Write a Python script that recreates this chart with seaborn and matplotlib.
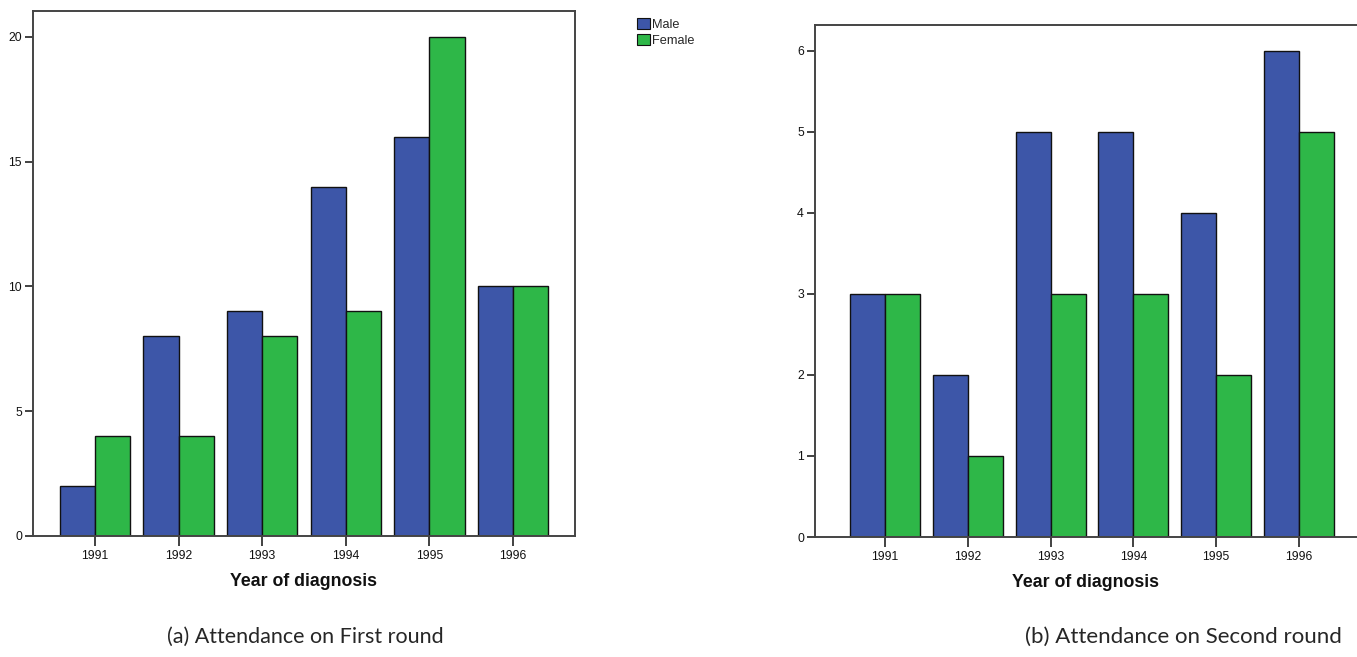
import matplotlib
matplotlib.use("Agg")
import matplotlib.pyplot as plt
import seaborn as sns
import pandas as pd
from matplotlib.patches import Patch

years = ["1991", "1992", "1993", "1994", "1995", "1996"]
sexes = ["Male", "Female"]
first_male = [2, 8, 9, 14, 16, 10]
first_female = [4, 4, 8, 9, 20, 10]
second_male = [3, 2, 5, 5, 4, 6]
second_female = [3, 1, 3, 3, 2, 5]
yticks_first = [0, 5, 10, 15, 20]
yticks_second = [0, 1, 2, 3, 4, 5, 6]
xlabel = "Year of diagnosis"
captions = ["(a) Attendance on First round", "(b) Attendance on Second round"]

BLUE = "#3D56A8"
GREEN = "#2EB748"

sns.set_theme(style="white")
plt.rcParams["font.family"] = ["Liberation Sans", "DejaVu Sans"]


def long_df(male, female):
    return pd.DataFrame({
        "year": years * 2,
        "sex": ["Male"] * len(years) + ["Female"] * len(years),
        "count": list(male) + list(female),
    })


fig = plt.figure(figsize=(13.57, 6.57), dpi=100)
ax1 = fig.add_axes([33 / 1357, 1 - 536 / 657, (575 - 33) / 1357, (536 - 11) / 657])
ax2 = fig.add_axes([815 / 1357, 1 - 537 / 657, (1357 - 815) / 1357, (537 - 25) / 657])

specs = [
    (ax1, long_df(first_male, first_female), yticks_first, (-0.74, 5.74), (0, 21.04), 0.84),
    (ax2, long_df(second_male, second_female), yticks_second, (-0.845, 5.70), (0, 6.32), 0.845),
]

for ax, df, yt, xl, yl, w in specs:
    sns.barplot(data=df, x="year", y="count", hue="sex", hue_order=sexes,
                order=years, palette=[BLUE, GREEN], width=w, gap=0,
                edgecolor="#111111", linewidth=1.0, saturation=1,
                errorbar=None, legend=False, ax=ax)
    ax.set_xlim(*xl)
    ax.set_ylim(*yl)
    ax.set_yticks(yt)
    ax.set_yticklabels([str(v) for v in yt])
    ax.set_ylabel("")
    ax.set_xlabel(xlabel, fontsize=12.8, fontweight="bold", labelpad=8, color="#111111")
    ax.tick_params(axis="both", which="both", direction="out", length=6, width=1.3,
                   colors="#333333", labelcolor="#111111", labelsize=8.8, pad=2,
                   bottom=True, left=True)
    ax.tick_params(axis="x", length=7, pad=3)
    for s in ax.spines.values():
        s.set_color("#444444")
        s.set_linewidth(1.4)
    ax.grid(False)

ax2.spines["right"].set_visible(False)

handles = [Patch(facecolor=BLUE, edgecolor="#111111", linewidth=0.8, label="Male"),
           Patch(facecolor=GREEN, edgecolor="#111111", linewidth=0.8, label="Female")]
fig.legend(handles=handles, loc="upper left", bbox_to_anchor=(628 / 1357, 1 - 9 / 657),
           frameon=False, fontsize=9.2, handlelength=1.0, handleheight=1.0,
           handletextpad=0.15, labelspacing=0.2, borderpad=0.2)

fig.text(305 / 1357, 1 - 637 / 657, captions[0], ha="center", va="center",
         fontsize=15.5, family=["Lato", "DejaVu Sans"])
fig.text(1183 / 1357, 1 - 637 / 657, captions[1], ha="center", va="center",
         fontsize=16, family=["Lato", "DejaVu Sans"])

fig.savefig("out.png", dpi=100)
